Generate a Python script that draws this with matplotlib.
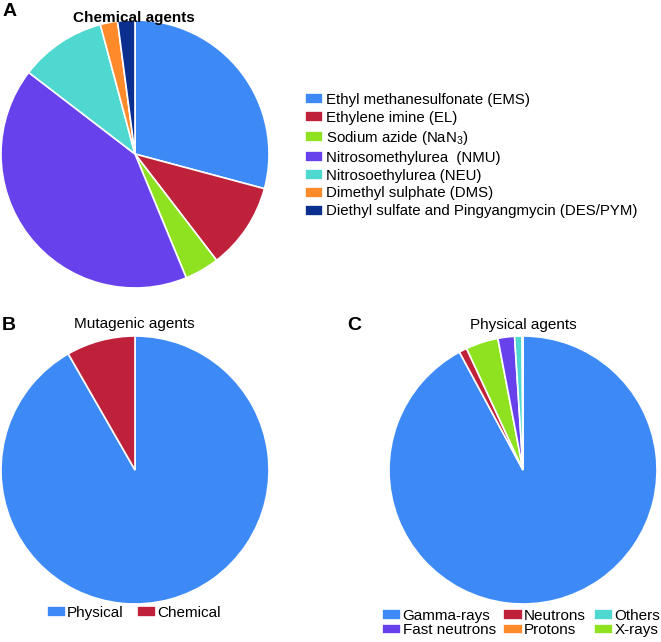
import matplotlib
matplotlib.use('Agg')
import matplotlib.pyplot as plt

plt.rcParams['font.family'] = ['Liberation Sans', 'DejaVu Sans']

# panel A - chemical agents
chem_labels = ['Ethyl methanesulfonate (EMS)', 'Ethylene imine (EL)',
               'Sodium azide (NaN$_{\\mathregular{3}}$)', 'Nitrosomethylurea  (NMU)',
               'Nitrosoethylurea (NEU)', 'Dimethyl sulphate (DMS)',
               'Diethyl sulfate and Pingyangmycin (DES/PYM)']
chem_values = [14, 5, 2, 20, 5, 1, 1]
chem_colors = ['#3D8AF7', '#C0213A', '#8EE21F', '#6741EB', '#4FD8D0', '#FF8A2A', '#0B2F8F']

# panel B - mutagenic agents
mut_labels = ['Physical', 'Chemical']
mut_values = [91.7, 8.3]
mut_colors = ['#3D8AF7', '#C0213A']

# panel C - physical agents (slice order clockwise from top)
phys_labels = ['Gamma-rays', 'Neutrons', 'X-rays', 'Fast neutrons', 'Others', 'Protons']
phys_values = [91.9, 0.95, 3.9, 2.0, 0.9, 0.1]
phys_colors = ['#3D8AF7', '#C0213A', '#8EE21F', '#6741EB', '#4FD8D0', '#FF8A2A']
phys_legend_order = ['Gamma-rays', 'Fast neutrons', 'Neutrons', 'Protons', 'Others', 'X-rays']

W, H = 661, 642
fig = plt.figure(figsize=(W / 100, H / 100), dpi=100)


def pie_axes(cx, cy, r):
    ax = fig.add_axes([(cx - r) / W, (H - cy - r) / H, 2 * r / W, 2 * r / H])
    return ax


def draw_pie(ax, vals, cols):
    w, _ = ax.pie(vals, colors=cols, startangle=90, counterclock=False,
                  wedgeprops=dict(edgecolor='white', linewidth=1.2))
    ax.set_xlim(-1, 1)
    ax.set_ylim(-1, 1)
    ax.set_aspect('equal')
    ax.axis('off')
    return w


axA = pie_axes(135, 154, 134)
wA = draw_pie(axA, chem_values, chem_colors)
axB = pie_axes(135, 470, 134)
wB = draw_pie(axB, mut_values, mut_colors)
axC = pie_axes(523, 470, 134)
wC = draw_pie(axC, phys_values, phys_colors)

# titles and panel letters
fig.text(134 / W, 1 - 18 / H, 'Chemical agents', ha='center', va='center',
         fontsize=11, fontweight='bold')
fig.text(134 / W, 1 - 324 / H, 'Mutagenic agents', ha='center', va='center', fontsize=11)
fig.text(523 / W, 1 - 325 / H, 'Physical agents', ha='center', va='center', fontsize=11)
fig.text(3 / W, 1 - 12 / H, 'A', ha='left', va='center', fontsize=14, fontweight='bold')
fig.text(2 / W, 1 - 325 / H, 'B', ha='left', va='center', fontsize=14, fontweight='bold')
fig.text(347 / W, 1 - 326 / H, 'C', ha='left', va='center', fontsize=14, fontweight='bold')

# legends
fig.legend(wA, chem_labels, loc='upper left', bbox_to_anchor=(297 / W, 1 - 85.5 / H),
           frameon=False, fontsize=10.8, borderpad=0, handlelength=1.25,
           handleheight=0.75, handletextpad=0.15, labelspacing=0.26)

fig.legend(wB, mut_labels, loc='center', bbox_to_anchor=(134 / W, 1 - 613 / H),
           ncol=2, frameon=False, fontsize=11, borderpad=0, handlelength=1.2,
           handleheight=0.7, handletextpad=0.1, columnspacing=0.9)

byname = dict(zip(phys_labels, wC))
fig.legend([byname[n] for n in phys_legend_order], phys_legend_order, loc='center',
           bbox_to_anchor=(521 / W, 1 - 623 / H), ncol=3, frameon=False, fontsize=11,
           borderpad=0, handlelength=1.25, handleheight=0.7, handletextpad=0.1,
           columnspacing=0.5, labelspacing=0.05)

fig.savefig('out.png', dpi=100)
